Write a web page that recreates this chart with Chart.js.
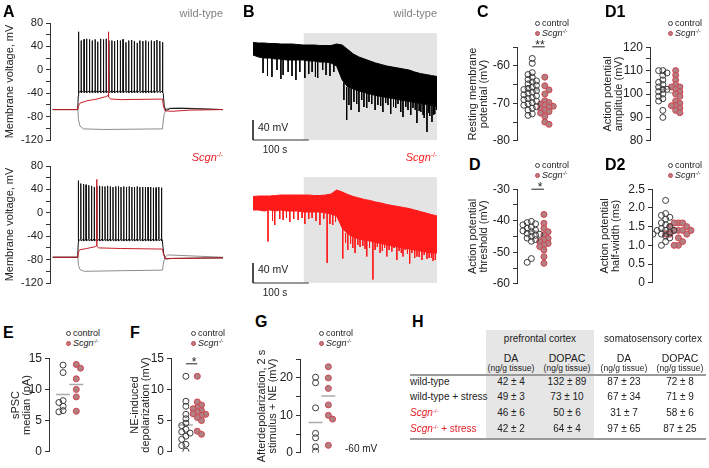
<!DOCTYPE html>
<html>
<head>
<meta charset="utf-8">
<script src="https://cdn.jsdelivr.net/npm/chart.js@4.4.1/dist/chart.umd.min.js"></script>
<style>
html,body{margin:0;padding:0;background:#fff;}
#root{position:relative;width:709px;height:468px;overflow:hidden;font-family:"Liberation Sans",Arial,Helvetica,sans-serif;color:#222;}
#root canvas{position:absolute;}
.tx{position:absolute;white-space:nowrap;line-height:1;}
.dot{position:absolute;width:5px;height:5px;border-radius:50%;box-sizing:border-box;}
.sup{font-size:0.6em;position:relative;top:-0.55em;font-style:normal;}
.rule{position:absolute;background:#9a9a9a;}
</style>
</head>
<body>
<div id="root"></div>
<script>
// ================= DATA =================
// Panel A – current-clamp traces (time in ms, voltage in mV)
const aTopSpikeTimes = [152,167,184,199,216,232,249,264,281,298,314,330,347,363,380,397,413,430,446,463,479,496,512,529,546,562,579,596,612,629,645];
const aTopSpikePeaks = [65,50,52,53,52,50,52,48,53,52,53,50,50,49,51,50,52,47,50,51,49,46,50,49,50,48,50,49,51,49,47];
const aTopBlackPre  = [[0,-68],[147,-68],[150,-45]];
const aTopBlackPost = [[649,-40],[655,-62],[665,-70],[690,-66],[760,-66],[1000,-68]];
const aTopRed  = [[0,-68],[148,-68],[151,-62],[160,-57],[200,-53],[260,-50],[310,-46],[325,-44],[327,65],[329,-46],[340,-50],[400,-51],[645,-50],[650,-62],[660,-70],[700,-71],[800,-69],[1000,-68]];
const aTopGrey = [[0,-68],[148,-68],[151,-85],[160,-96],[180,-101],[300,-102],[645,-101],[648,-90],[655,-75],[670,-66],[750,-65],[1000,-68]];

const aBotSpikeTimes = [151,165,181,196,212,228,244,259,275,291,307,322,338,354,370,386,401,417,433,449,465,480,496,512,528,544,560,575,591,607,623,639];
const aBotSpikePeaks = [55,50,49,48,47,46,44,45,46,45,45,46,45,44,45,45,44,45,44,45,44,44,45,44,44,44,44,44,43,43,44,43];
const aBotBlackPre  = [[0,-76],[147,-76],[150,-52]];
const aBotBlackPost = [[643,-46],[652,-70],[662,-79],[700,-78],[1000,-77]];
const aBotRed  = [[0,-76],[148,-76],[151,-67],[160,-63],[200,-61],[250,-58],[256,-56],[258,57],[260,-57],[270,-60],[400,-61],[645,-62],[650,-70],[660,-78],[720,-78],[1000,-77]];
const aBotGrey = [[0,-76],[148,-76],[151,-90],[160,-97],[185,-100],[400,-99],[645,-98],[649,-88],[658,-76],[675,-72],[760,-73],[1000,-76]];
const aTicks = {min:-120, max:80, step:20, labelEvery:40};

// Panel B – long recordings (time in s, voltage in mV above scale-bar base)
const bTime = [0,10,20,30,40,50,60,70,80,90,100,110,120,130,140,150,160,170,180,190,200,210,220,230,240,250,260,270,280,290,300,310,320,330];
const bTopUpper = [195,194,194,193,193,192,192,192,191,190,190,190,189,189,189,192,190,181,172,166,162,158,154,151,148,146,144,142,140,136,133,131,129,127];
const bTopLower = [170,166,164,164,162,162,160,160,160,160,158,158,156,156,154,148,120,106,102,98,95,92,89,87,85,83,81,79,77,75,73,71,69,67];
const bTopEvents = [[18,164,134],[26,164,128],[34,164,126],[43,162,140],[50,162,122],[54,162,130],[63,160,136],[70,160,128],[77,160,120],[84,160,136],[93,160,124],[100,158,132],[106,158,136],[112,158,126],[116,158,124],[125,156,140],[131,156,130],[138,154,128],[145,154,136],
  [163,115,80],[168,106,40],[172,104,70],[176,103,60],[181,102,76],[186,100,72],[190,98,56],[195,97,80],[199,96,66],[204,95,64],[208,93,76],[213,92,72],[219,90,60],[224,89,70],[229,88,68],[233,87,56],[238,86,74],[242,85,70],[247,84,52],[252,83,66],[256,82,64],[260,81,72],[265,80,56],[269,79,46],[274,78,66],[278,77,60],[283,76,50],[287,76,64],[291,75,60],[294,74,34],[298,73,58],[301,73,56],[305,72,50],[307,71,44],[312,70,16],[315,70,54],[317,69,48],[321,69,36],[324,68,50],[326,68,52],[329,67,60]];
const bBotUpper = [173,174,174,174,175,176,176,176,176,176,176,175,175,176,178,186,182,177,173,170,167,165,162,160,157,155,153,151,149,146,143,140,137,134];
const bBotLower = [146,146,144,146,144,146,144,144,144,142,142,142,142,140,138,134,110,98,92,88,86,84,81,79,76,74,72,70,68,66,64,62,60,60];
const bBotEvents = [[27,144,83],[35,146,124],[39,146,116],[48,146,128],[54,146,126],[60,144,130],[66,144,122],[73,144,128],[81,144,126],[88,142,130],[93,142,118],[100,142,128],[106,142,130],[113,142,124],[120,142,116],[127,140,128],[133,140,40],[138,138,118],[143,138,116],[148,134,122],
  [161,110,49],[166,100,80],[170,98,66],[175,95,78],[179,93,70],[183,92,60],[188,89,76],[192,88,72],[197,87,74],[201,86,68],[204,86,53],[209,84,70],[215,82,7],[219,81,66],[223,81,72],[228,80,60],[232,78,64],[236,78,70],[240,77,53],[244,76,66],[249,74,63],[253,74,70],[258,73,46],[262,72,64],[266,71,60],[269,70,53],[273,70,66],[277,69,58],[281,68,39],[285,67,60],[290,66,50],[294,66,53],[298,65,52],[303,64,46],[307,63,56],[312,62,48],[316,61,50],[320,60,50],[323,60,44],[327,60,46]];
const bNEStart = 91;          // s, start of NE application (shaded)
const bScaleBar = {mV:40, s:100};

// Panels C–G – individual cells: control vs Scgn-/-
const cCtrl = [-58,-59.3,-61.8,-62.3,-63,-63.6,-64,-64.3,-64.8,-65.2,-65.6,-66,-66.3,-66.6,-67,-67.3,-67.7,-68,-68.4,-68.7,-69,-69.4,-69.8,-70.1,-70.5,-70.9,-71.3,-71.8,-72.8,-73.2];
const cKO   = [-63,-65.3,-66.4,-67.5,-69.3,-69.8,-70.2,-70.5,-70.8,-71,-71.4,-71.8,-72.2,-72.6,-73.5,-75,-75.6];
const cMed  = [-66.4,-70.6];
const d1Ctrl = [110,110,109,108,106,105,104,103,102,102,101,100,99,98,97,93,90];
const d1KO   = [110,108,106,104,103,103,102,101,100,99,97,96,95,95,94,93,92];
const d1Med  = [102,100.5];
const dCtrl = [-40.2,-40.6,-41,-41.3,-42,-42.3,-43,-43.2,-43.5,-44,-44.3,-44.6,-45,-45.5,-46,-46.5,-52,-53.2];
const dKO   = [-38,-40.8,-42.4,-43.5,-44.5,-45.6,-46.1,-46.6,-47.2,-47.7,-48.2,-49.3,-51.4,-53.5];
const dMed  = [-43.3,-45.8];
const d2Ctrl = [2.2,1.85,1.8,1.75,1.7,1.6,1.55,1.5,1.45,1.4,1.4,1.4,1.35,1.3,1.3,1.25,1.2,1.1,1.0];
const d2KO   = [1.6,1.6,1.6,1.5,1.5,1.4,1.4,1.4,1.4,1.3,1.3,1.3,1.2,1.1,1.0,1.0];
const d2Med  = [1.4,1.4];
const eCtrl = [13.9,12.7,8.2,7.9,7.3,6.6,6.4];
const eKO   = [14.0,13.4,11.7,10.0,8.8,6.5];
const eMed  = [9.2,10.8];
const fCtrl = [12.1,8.1,7.3,6.0,5.3,4.6,4.2,3.6,3.2,3.0,2.5,2.0,1.2,1.0,0.1];
const fKO   = [12.1,8.0,7.5,7.1,6.9,6.6,6.4,6.1,6.0,5.8,5.5,5.0,3.3,2.8];
const fMed  = [4.3,6.2];
const gCtrl = [20.2,18.7,12.0,5.2,4.0,1.6,0.4];
const gKO   = [23.0,20.0,17.2,12.8,10.0,9.0,2.0];
const gMed  = [8.1,15.2];

// Panel H – monoamine content (ng/g tissue, mean ± s.e.m.)
const hGroups = ['wild-type','wild-type + stress','Scgn','Scgn + stress'];
const hDaPfcMean = [42,49,46,42],    hDaPfcErr = [4,3,6,2];
const hDopacPfcMean = [132,73,50,64], hDopacPfcErr = [89,10,6,4];
const hDaSsMean = [87,67,31,97],     hDaSsErr = [23,34,7,65];
const hDopacSsMean = [72,71,58,87],  hDopacSsErr = [8,9,6,25];

// ================= RENDERING =================
const root = document.getElementById('root');
Chart.defaults.font.family = '"Liberation Sans", Arial, Helvetica, sans-serif';
Chart.defaults.color = '#222';
const PAD = 10;
const AXIS = '#333';
const KO_FILL = '#b08084', KO_EDGE = '#d2434d', CTRL_EDGE = '#3c3c3c', MED = '#ababab';
const SCGN = '<i>Scgn</i><span class="sup">-/-</span>';

function addCanvas(left, top, w, h){
  const c = document.createElement('canvas');
  c.width = w; c.height = h;
  c.style.left = left+'px'; c.style.top = top+'px';
  c.style.width = w+'px'; c.style.height = h+'px';
  root.appendChild(c);
  return c;
}
function T(html, x, y, o={}){
  const d = document.createElement('div');
  d.className = 'tx';
  d.innerHTML = html;
  d.style.left = x+'px'; d.style.top = y+'px';
  d.style.fontSize = (o.size||10)+'px';
  d.style.color = o.color||'#222';
  if (o.bold) d.style.fontWeight = 'bold';
  if (o.italic) d.style.fontStyle = 'italic';
  const dx = o.align==='c' ? '-50%' : (o.align==='r' ? '-100%' : '0');
  d.style.transform = 'translate('+dx+',-50%)';
  root.appendChild(d);
  return d;
}
function dot(cx, cy, filled){
  const d = document.createElement('div');
  d.className = 'dot';
  d.style.left = (cx-2.5)+'px'; d.style.top = (cy-2.5)+'px';
  d.style.border = '1px solid '+(filled?KO_EDGE:CTRL_EDGE);
  d.style.background = filled?KO_FILL:'transparent';
  root.appendChild(d);
}
function legend(cx, cy){
  dot(cx, cy, false); T('control', cx+5, cy, {size:9});
  dot(cx, cy+10, true); T(SCGN, cx+5, cy+10, {size:9});
}
function yAxis(o){
  return {
    type:'linear', min:o.min, max:o.max,
    afterFit: s => { s.width = o.width; },
    ticks:{stepSize:o.step, autoSkip:false, padding:3, color:'#222', font:{size:o.fontSize},
      callback: v => (Math.abs(v/o.labelEvery - Math.round(v/o.labelEvery)) < 1e-6) ? o.fmt(v) : ''},
    grid:{drawOnChartArea:false, drawTicks:true, tickLength:4, tickColor:AXIS, tickWidth:1},
    border:{display:true, color:AXIS, width:1},
    title:{display:true, text:o.title, color:'#222', font:{size:11, lineHeight:1}, padding:{top:o.titlePad, bottom:0}}
  };
}
const baseOpts = {responsive:false, animation:false, devicePixelRatio:1,
  plugins:{legend:{display:false}, tooltip:{enabled:false}}};

// ---------- Panel A ----------
function spikeTrain(pre, times, peaks, thr, trough, post){
  const pts = pre.map(([x,y])=>({x,y}));
  times.forEach((t,i)=>{ pts.push({x:t-0.6,y:thr},{x:t,y:peaks[i]},{x:t+1.2,y:trough}); });
  post.forEach(([x,y])=>pts.push({x,y}));
  return pts;
}
function panelA(o){
  const left = 0, right = 224, axisX = 50, t0px = 52.7, t1px = 223;
  const cv = addCanvas(left, o.yTop-PAD, right-left, (o.yBot-o.yTop)+2*PAD);
  const pxPerMs = (t1px-t0px)/1000;
  const toPts = a => a.map(([x,y])=>({x,y}));
  new Chart(cv, {
    type:'line',
    data:{datasets:[
      {data: toPts(o.red),  borderColor:'#c8202a', borderWidth:1},
      {data: o.black, borderColor:'#111', borderWidth:1},
      {data: toPts(o.grey), borderColor:'#8c8c8c', borderWidth:1}
    ]},
    options:Object.assign({}, baseOpts, {
      layout:{padding:{top:PAD,bottom:PAD,left:0,right:0}},
      elements:{point:{radius:0}, line:{tension:0}},
      scales:{
        x:{type:'linear', display:false, min:-(t0px-axisX)/pxPerMs, max:1000+(right-t1px)/pxPerMs},
        y:yAxis({min:aTicks.min, max:aTicks.max, step:aTicks.step, labelEvery:aTicks.labelEvery, width:axisX-left,
                 fontSize:11, fmt:v=>String(v), title:'Membrane voltage, mV', titlePad:4.5})
      }
    })
  });
}
panelA({yTop:23, yBot:140,
  black: spikeTrain(aTopBlackPre, aTopSpikeTimes, aTopSpikePeaks, -36, -39, aTopBlackPost),
  red: aTopRed, grey: aTopGrey});
panelA({yTop:166, yBot:283,
  black: spikeTrain(aBotBlackPre, aBotSpikeTimes, aBotSpikePeaks, -45, -48, aBotBlackPost),
  red: aBotRed, grey: aBotGrey});

// ---------- Panel B ----------
function panelB(o){
  const cv = addCanvas(249, o.top, 191, o.h);
  const shade = {id:'shade', beforeDatasetsDraw(ch){
    const {ctx, chartArea:a, scales:{x}} = ch;
    const xs = x.getPixelForValue(bNEStart);
    ctx.save(); ctx.fillStyle = '#e4e4e4';
    ctx.fillRect(xs, a.top, a.right-xs, a.bottom-a.top); ctx.restore();
  }};
  const events = o.events.flatMap(([t,a,b])=>[{x:t,y:a},{x:t,y:b},{x:t,y:null}]);
  new Chart(cv, {
    type:'line',
    data:{datasets:[
      {data:[{x:0,y:bScaleBar.mV},{x:0,y:0},{x:bScaleBar.s,y:0}], borderColor:'#333', borderWidth:1, clip:false},
      {data:events, borderColor:o.color, borderWidth:1, spanGaps:false},
      {data:bTime.map((t,i)=>({x:t,y:o.lower[i]})), borderColor:o.color, borderWidth:1, fill:false},
      {data:bTime.map((t,i)=>({x:t,y:o.upper[i]})), borderColor:o.color, borderWidth:1, fill:'-1', backgroundColor:o.color}
    ]},
    options:Object.assign({}, baseOpts, {
      layout:{padding:{top:2,bottom:2,left:4,right:3}},
      elements:{point:{radius:0}, line:{tension:0}},
      scales:{x:{type:'linear',display:false,min:0,max:330}, y:{display:false,min:0,max:o.ymax}}
    }),
    plugins:[shade]
  });
}
panelB({top:31, h:111, ymax:214, color:'#000', upper:bTopUpper, lower:bTopLower, events:bTopEvents});
panelB({top:175, h:110, ymax:212, color:'#ff1a1a', upper:bBotUpper, lower:bBotLower, events:bBotEvents});

// ---------- Panels C–G ----------
function swarm(chart, dsIndex, order){
  const xs = chart.scales.x, ys = chart.scales.y;
  const pxPerX = xs.getPixelForValue(1) - xs.getPixelForValue(0);
  const pts = chart.data.datasets[dsIndex].data;
  const center = pts.length ? pts[0].x : 0;
  const STEP = 4.2, DOT = 4.2;
  const placed = [];
  pts.map((p,i)=>i).sort((a,b)=>pts[b].y-pts[a].y).forEach(i=>{
    const py = ys.getPixelForValue(pts[i].y);
    for (const k of order){
      if (!placed.some(q=>q.k===k && Math.abs(q.py-py) < DOT)){
        placed.push({k,py}); pts[i].x = center + k*STEP/pxPerX; break;
      }
    }
  });
}
function scatterPanel(p){
  const W = p.axisX - p.left;
  const cv = addCanvas(p.left, Math.round(p.yTop)-PAD, p.right-p.left, Math.round(p.yBot-p.yTop)+2*PAD);
  const unit = p.c1 - p.c0;
  const ds = [
    {type:'line', data: p.sig!==undefined ? [{x:0,y:p.sig},{x:1,y:p.sig}] : [], borderColor:'#222', borderWidth:1, pointRadius:0, clip:false},
    {data:p.ctrl.map(v=>({x:0,y:v})), pointRadius:3, pointBorderWidth:1, pointBackgroundColor:'rgba(255,255,255,0)', pointBorderColor:CTRL_EDGE},
    {data:p.ko.map(v=>({x:1,y:v})), pointRadius:3, pointBorderWidth:1, pointBackgroundColor:KO_FILL, pointBorderColor:KO_EDGE},
    {data:[{x:0,y:p.med[0]},{x:1,y:p.med[1]}], pointStyle:'line', pointRadius:7, pointBorderWidth:1.5, pointBorderColor:MED}
  ];
  const chart = new Chart(cv, {
    type:'scatter',
    data:{datasets:ds},
    options:Object.assign({}, baseOpts, {
      layout:{padding:{top:PAD,bottom:PAD,left:0,right:0}},
      scales:{
        x:{type:'linear', display:false, min:(p.axisX-p.c0)/unit, max:(p.right-p.c0)/unit},
        y:yAxis({min:p.yMin, max:p.yMax, step:p.step, labelEvery:p.labelEvery, width:W, fontSize:12,
                 fmt:p.fmt||(v=>String(v)), title:p.title, titlePad:p.titleCenter-p.left-5.5})
      }
    })
  });
  swarm(chart, 1, [0,-1,1,-2,2,-3,3]);
  swarm(chart, 2, [0,1,-1,2,-2,3,-3]);
  chart.update('none');
}
scatterPanel({left:462, right:600, axisX:517, yTop:47, yBot:141, yMin:-80, yMax:-55, step:5, labelEvery:10,
  title:['Resting membrane','potential (mV)'], titleCenter:473, c0:534, c1:548, ctrl:cCtrl, ko:cKO, med:cMed, sig:-54.9});
scatterPanel({left:596, right:709, axisX:650, yTop:46.7, yBot:141, yMin:80, yMax:120, step:5, labelEvery:10,
  title:['Action potential','amplitude (mV)'], titleCenter:608, c0:665, c1:680, ctrl:d1Ctrl, ko:d1KO, med:d1Med});
scatterPanel({left:462, right:600, axisX:517, yTop:189.3, yBot:284, yMin:-60, yMax:-30, step:5, labelEvery:10,
  title:['Action potential','threshold (mV)'], titleCenter:473, c0:533, c1:547, ctrl:dCtrl, ko:dKO, med:dMed, sig:-30});
scatterPanel({left:596, right:709, axisX:652, yTop:189.3, yBot:283.3, yMin:0, yMax:2.5, step:0.5, labelEvery:0.5,
  fmt:v=> v===0 ? '0' : v.toFixed(1),
  title:['Action potential','half-width (ms)'], titleCenter:605, c0:668, c1:683, ctrl:d2Ctrl, ko:d2KO, med:d2Med});
scatterPanel({left:4, right:120, axisX:49, yTop:358.3, yBot:452.3, yMin:0, yMax:15, step:5, labelEvery:5,
  title:['sPSC','median (pA)'], titleCenter:16, c0:65, c1:80, ctrl:eCtrl, ko:eKO, med:eMed});
scatterPanel({left:124, right:240, axisX:171, yTop:358.3, yBot:452.3, yMin:0, yMax:15, step:5, labelEvery:5,
  title:['NE-induced','depolarization (mV)'], titleCenter:135, c0:188, c1:201, ctrl:fCtrl, ko:fKO, med:fMed, sig:14.1});
scatterPanel({left:250, right:400, axisX:300, yTop:358.5, yBot:452.7, yMin:0, yMax:25, step:5, labelEvery:10,
  title:['Afterdepolarization, 2 s','stimulus + NE (mV)'], titleCenter:262, c0:317, c1:331, ctrl:gCtrl, ko:gKO, med:gMed});

// ---------- Text ----------
const LETTER = {size:16, bold:true, color:'#000'};
T('A', 3, 12, LETTER); T('B', 243, 12, LETTER); T('C', 477, 12, LETTER); T('D1', 605, 12, LETTER);
T('D', 469, 165, LETTER); T('D2', 605, 165, LETTER);
T('E', 3, 333, LETTER); T('F', 130, 333, LETTER); T('G', 255, 322, LETTER); T('H', 412, 322, LETTER);

T('wild-type', 223, 12.5, {size:11, color:'#808080', align:'r'});
T('wild-type', 437, 12.5, {size:11, color:'#808080', align:'r'});
T(SCGN, 223, 157, {size:11, color:'#e3202a', align:'r'});
T(SCGN, 437, 157, {size:11, color:'#ff1a1a', align:'r'});

T('40 mV', 258, 127, {size:10.5});
T('100 s', 275, 150, {size:10, align:'c'});
T('40 mV', 258, 269, {size:10.5});
T('100 s', 275, 293, {size:10, align:'c'});

legend(537, 23); legend(670, 23); legend(537, 165); legend(670, 165);
legend(68, 333); legend(193, 333); legend(321, 333);

T('**', 540, 45, {size:12, align:'c'});
T('*', 540, 187, {size:12, align:'c'});
T('*', 194, 362, {size:12, align:'c'});
T('-60 mV', 345, 449, {size:10});

// ---------- Panel H table ----------
(function(){
  const sh = document.createElement('div');
  sh.style.cssText = 'position:absolute;left:486px;top:330px;width:108px;height:108px;background:#e6e6e6;';
  root.appendChild(sh);
  T('prefrontal cortex', 540, 339, {size:10, align:'c'});
  T('somatosensory cortex', 653, 339, {size:10, align:'c'});
  const colX = [511, 567, 624, 680];
  const colNames = ['DA','DOPAC','DA','DOPAC'];
  colX.forEach((x,i)=>{ T(colNames[i], x, 357.5, {size:10.5, align:'c'}); T('(ng/g tissue)', x, 367.5, {size:8.5, align:'c'}); });
  [374, 438].forEach(y=>{ const r=document.createElement('div'); r.className='rule';
    r.style.cssText += 'left:410px;width:296px;height:1.5px;top:'+y+'px;'; root.appendChild(r); });
  const rowY = [381.5, 397, 413, 429];
  const cols = [[hDaPfcMean,hDaPfcErr],[hDopacPfcMean,hDopacPfcErr],[hDaSsMean,hDaSsErr],[hDopacSsMean,hDopacSsErr]];
  hGroups.forEach((g,r)=>{
    const isKO = g.startsWith('Scgn');
    const html = isKO ? g.replace('Scgn', SCGN) : g;
    T(html, 410, rowY[r], {size:10, color: isKO ? '#e3202a' : '#222'});
    cols.forEach(([m,e],c)=> T(m[r]+' ± '+e[r], colX[c], rowY[r], {size:10, align:'c'}));
  });
})();
</script>
</body>
</html>
